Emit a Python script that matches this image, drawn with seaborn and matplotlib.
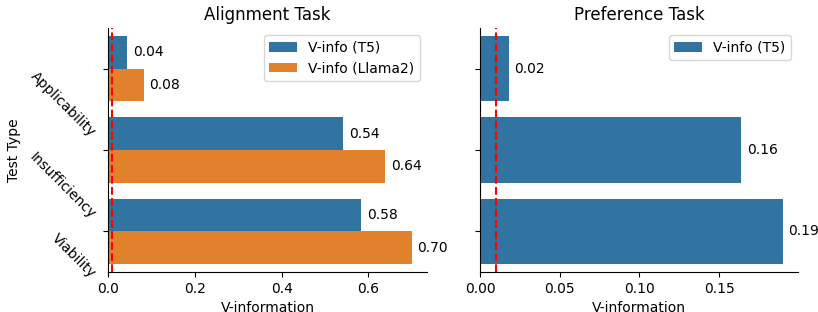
import matplotlib
matplotlib.use("Agg")
import matplotlib.pyplot as plt
import seaborn as sns
import pandas as pd

test_types = ["Applicability", "Insufficiency", "Viability"]
align_t5 = [0.044, 0.542, 0.584]
align_llama2 = [0.083, 0.639, 0.700]
pref_t5 = [0.0182, 0.164, 0.190]
threshold = 0.01
series_names = ["V-info (T5)", "V-info (Llama2)"]

df_align = pd.DataFrame({
    "Test Type": test_types * 2,
    "V-information": align_t5 + align_llama2,
    "Model": [series_names[0]] * 3 + [series_names[1]] * 3,
})
df_pref = pd.DataFrame({
    "Test Type": test_types,
    "V-information": pref_t5,
    "Model": [series_names[0]] * 3,
})

palette = sns.color_palette()
pal = {series_names[0]: palette[0], series_names[1]: palette[1]}

fig = plt.figure(figsize=(8.18, 3.12), dpi=100)
ax1 = fig.add_axes([108/818, 1-272/312, (427-108)/818, (272-28)/312])
ax2 = fig.add_axes([480/818, 1-272/312, (798-480)/818, (272-28)/312], sharey=ax1)

sns.barplot(data=df_align, y="Test Type", x="V-information", hue="Model",
            palette=pal, orient="h", ax=ax1, errorbar=None)
sns.barplot(data=df_pref, y="Test Type", x="V-information", hue="Model",
            palette=pal, orient="h", ax=ax2, errorbar=None)

for ax, title in [(ax1, "Alignment Task"), (ax2, "Preference Task")]:
    for c in ax.containers:
        ax.bar_label(c, fmt="%.2f", padding=4, fontsize=10)
    ax.axvline(threshold, color="red", linestyle="--", linewidth=1.5)
    ax.set_title(title, fontsize=12)
    ax.set_xlabel("V-information", fontsize=10)
    ax.spines["top"].set_visible(False)
    ax.spines["right"].set_visible(False)
    ax.legend(loc="upper right", fontsize=10)

ax1.set_ylabel("Test Type", fontsize=10)
ax1.set_yticks(range(len(test_types)))
ax1.set_yticklabels(test_types, rotation=-45, va="top", ha="right")
ax2.set_ylabel("")
ax2.tick_params(axis="y", labelleft=False)
ax1.set_ylim(2.5, -0.5)

fig.savefig("out.png", dpi=100)
